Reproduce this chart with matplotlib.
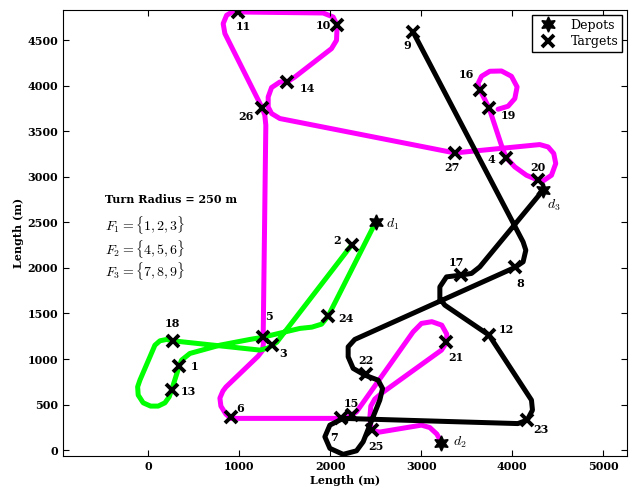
import matplotlib
matplotlib.use('Agg')
import matplotlib.pyplot as plt
from matplotlib.lines import Line2D
import numpy as np

plt.rcParams['font.family'] = 'DejaVu Serif'
plt.rcParams['mathtext.fontset'] = 'cm'

# targets (x, y in m)
target_ids = [1, 2, 3, 4, 5, 6, 7, 8, 9, 10, 11, 12, 13, 14,
              15, 16, 17, 18, 19, 20, 21, 22, 23, 24, 25, 26, 27]
target_x = [341, 2235, 1356, 3938, 1257, 909, 2114, 4030, 2912, 2077, 989, 3747, 257, 1527,
            2235, 3645, 3433, 268, 3747, 4286, 3279, 2392, 4165, 1978, 2455, 1253, 3370]
target_y = [922, 2250, 1152, 3208, 1244, 366, 348, 2005, 4591, 4665, 4811, 1262, 659, 4042,
            384, 3959, 1921, 1200, 3757, 2964, 1182, 834, 329, 1471, 220, 3757, 3263]

depot_names = ['$d_1$', '$d_2$', '$d_3$']
depot_x = [2502, 3224, 4341]
depot_y = [2506, 80, 2854]

# vehicle paths (m)
green_x = [2502, 1978, 1906, 1799, 1667, 1249, 1118, 788, 458, 367, 341, 257, 231, 184,
           110, 26, -55, -110, -116, -91, 74, 129, 202, 268, 1227, 1315, 1414, 2235]
green_y = [2506, 1471, 1383, 1350, 1336, 1237, 1215, 1152, 1061, 988, 922, 659, 585, 519,
           483, 483, 519, 604, 695, 768, 1152, 1200, 1215, 1200, 1098, 1120, 1185, 2250]

magenta_x = [3224, 3173, 3096, 3004, 2546, 2480, 2447, 2436, 2447, 2491, 2568, 3224, 3279,
             3282, 3227, 3118, 3004, 2912, 2290, 2235, 2162, 909, 854, 799, 788, 821, 854,
             1209, 1255, 1266, 1264, 1293, 1282, 1253, 843, 824, 862, 934, 989, 1923, 2033,
             2077, 2070, 2015, 1612, 1527, 1447, 1356, 1319, 1319, 1356, 1447, 3370, 4304,
             4396, 4458, 4480, 4433, 4341, 4286, 4158, 4030, 3938, 3895, 3747, 3645, 3626,
             3664, 3755, 3884, 3993, 4055, 4030, 3956, 3846]
magenta_y = [80, 176, 247, 274, 198, 209, 263, 351, 483, 560, 626, 1098, 1182,
             1273, 1372, 1410, 1391, 1298, 420, 384, 348, 348, 395, 483, 571, 648, 692,
             1032, 1092, 1163, 1251, 3567, 3677, 3757, 4574, 4683, 4775, 4818, 4811, 4800, 4756,
             4665, 4500, 4409, 4097, 4042, 4042, 3981, 3878, 3768, 3696, 3641, 3263, 3355,
             3329, 3257, 3147, 3018, 2956, 2964, 3018, 3110, 3208, 3311, 3757, 3959, 4025,
             4105, 4160, 4163, 4105, 3988, 3860, 3776, 3743]

black_x = [4341, 3645, 3554, 3433, 3279, 3206, 3206, 3260, 3747, 4213, 4224, 4176, 4165,
           4063, 2143, 1997, 1942, 1997, 2143, 2290, 2363, 2546, 2576, 2527, 2381, 2253,
           2198, 2198, 2271, 4030, 4121, 4151, 4121, 2912]
black_y = [2854, 2012, 1940, 1921, 1902, 1792, 1665, 1592, 1262, 549, 439, 348, 329,
           291, 348, 274, 146, 19, -47, -8, 91, 549, 677, 768, 823, 897,
           1024, 1134, 1215, 2005, 2067, 2195, 2286, 4591]

# label offsets in pixels (dx, dy)
label_off = {1: (15, 0), 2: (-14, 5), 3: (12, -8), 4: (-15, -2), 5: (6, 20), 6: (9, 8),
             7: (-7, -19), 8: (5, -16), 9: (-6, -13), 10: (-14, 0), 11: (5, -15),
             12: (17, 6), 13: (17, -1), 14: (20, -6), 15: (0, 12), 16: (-13, 15),
             17: (-4, 13), 18: (0, 17), 19: (19, -8), 20: (0, 13), 21: (9, -15),
             22: (0, 14), 23: (14, -9), 24: (18, -2), 25: (4, -16), 26: (-16, -9),
             27: (-3, -15)}
depot_off = [(17, -2), (18, 0), (11, -15)]

fig = plt.figure(figsize=(6.3, 4.9), dpi=100)
ax = fig.add_axes([0.0995, 0.0694, 0.896, 0.9106])

ax.plot(magenta_x, magenta_y, color='#ff00ff', lw=3.6, solid_joinstyle='round',
        solid_capstyle='round', zorder=1)
ax.plot(green_x, green_y, color='#00ff00', lw=3.6, solid_joinstyle='round',
        solid_capstyle='round', zorder=2)
ax.plot(black_x, black_y, color='black', lw=3.6, solid_joinstyle='round',
        solid_capstyle='round', zorder=3)

ax.plot(target_x, target_y, 'x', color='black', ms=9, mew=2.8, zorder=5)
ax.plot(depot_x, depot_y, marker=(6, 1, 0), ls='none', color='black', ms=11, zorder=5)

for tid, tx, ty in zip(target_ids, target_x, target_y):
    ax.annotate(str(tid), (tx, ty), xytext=label_off[tid], textcoords='offset pixels',
                ha='center', va='center', fontsize=8, fontweight='bold')
for name, dx, dy, off in zip(depot_names, depot_x, depot_y, depot_off):
    ax.annotate(name, (dx, dy), xytext=off, textcoords='offset pixels',
                ha='center', va='center', fontsize=10)

ax.text(0.075, 0.574, 'Turn Radius = 250 m', transform=ax.transAxes, fontsize=8,
        fontweight='bold', va='center')
ax.text(0.075, 0.518, r'$F_1 = \{1, 2, 3\}$', transform=ax.transAxes, fontsize=10, va='center')
ax.text(0.075, 0.464, r'$F_2 = \{4, 5, 6\}$', transform=ax.transAxes, fontsize=10, va='center')
ax.text(0.075, 0.415, r'$F_3 = \{7, 8, 9\}$', transform=ax.transAxes, fontsize=10, va='center')

ax.set_xlim(-940, 5265)
ax.set_ylim(-65, 4835)
ax.set_xticks(np.arange(0, 5001, 1000))
ax.set_yticks(np.arange(0, 4501, 500))
ax.tick_params(direction='in', top=True, right=True, labelsize=8, length=4)
for lab in ax.get_xticklabels() + ax.get_yticklabels():
    lab.set_fontweight('bold')
ax.set_xlabel('Length (m)', fontsize=8, fontweight='bold', labelpad=2)
ax.set_ylabel('Length (m)', fontsize=8, fontweight='bold', labelpad=2)

handles = [Line2D([], [], marker=(6, 1, 0), ls='none', color='black', ms=11),
           Line2D([], [], marker='x', ls='none', color='black', ms=9, mew=2.8)]
leg = ax.legend(handles, ['Depots', 'Targets'], loc='upper right', fontsize=9,
                fancybox=False, edgecolor='black', framealpha=1, borderaxespad=0.4,
                handletextpad=0.8, borderpad=0.3, labelspacing=0.3)
leg.get_frame().set_linewidth(1.0)

fig.savefig('out.png', dpi=100)
